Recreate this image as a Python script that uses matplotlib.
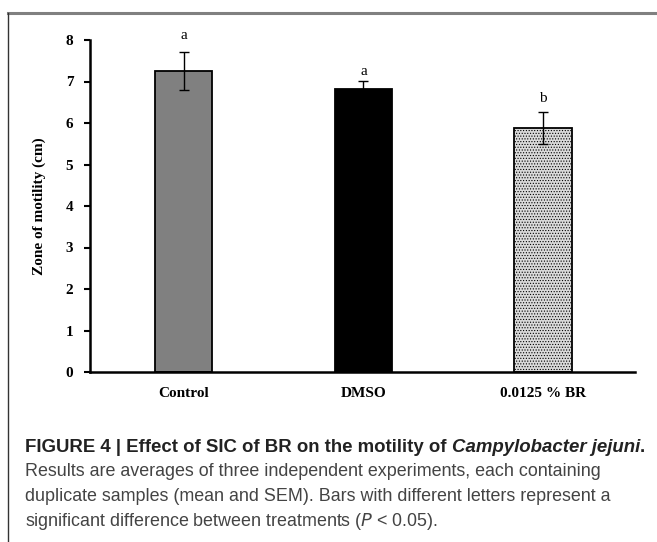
import matplotlib
matplotlib.use("Agg")
import matplotlib.pyplot as plt
from matplotlib.lines import Line2D
import numpy as np

categories = ["Control", "DMSO", "0.0125 % BR"]
means = [7.26, 6.81, 5.88]
sems = [0.46, 0.20, 0.39]
letters = ["a", "a", "b"]
y_ticks = [0, 1, 2, 3, 4, 5, 6, 7, 8]
y_label = "Zone of motility (cm)"

W, H = 657, 542
plt.rcParams["hatch.color"] = "#8a8a8a"
plt.rcParams["hatch.linewidth"] = 0.5
fig = plt.figure(figsize=(W / 100, H / 100), dpi=100)

ax = fig.add_axes([90 / W, 1 - 372 / H, (635 - 90) / W, (372 - 40) / H])
x = np.arange(len(categories))
faces = ["#808080", "#000000", "#dadada"]
bars = ax.bar(x, means, width=0.32, color=faces, edgecolor="black", linewidth=1.3, zorder=2)
bars[2].set_hatch("......")

ax.errorbar(x, means, yerr=sems, fmt="none", ecolor="black", elinewidth=1.0,
            capsize=3.5, capthick=1.0, zorder=3)

offsets_px = [10, 3, 7]
for xi, m, s, l, o in zip(x, means, sems, letters, offsets_px):
    ax.annotate(l, (xi, m + s), xytext=(0, o * 0.72), textcoords="offset points",
                ha="center", va="bottom", fontsize=11, family="Liberation Serif",
                annotation_clip=False)

ax.set_xlim(-0.52, 2.51)
ax.set_ylim(0, 8)
ax.set_yticks(y_ticks)
ax.set_yticklabels([str(t) for t in y_ticks], fontsize=11, fontweight="bold", family="Liberation Serif")
ax.set_xticks(x)
ax.set_xticklabels(categories, fontsize=11, fontweight="bold", family="Liberation Serif")
ax.tick_params(axis="x", length=0, pad=11)
ax.tick_params(axis="y", length=4, width=1.5, direction="out", pad=8)
ax.spines["top"].set_visible(False)
ax.spines["right"].set_visible(False)
ax.spines["left"].set_linewidth(1.8)
ax.spines["bottom"].set_linewidth(1.8)
ax.set_ylabel(y_label, fontsize=11, fontweight="bold", family="Liberation Serif", labelpad=14)

# frame lines
fig.add_artist(Line2D([8 / W, 1.0], [1 - 13 / H, 1 - 13 / H], color="#808080", linewidth=2.2))
fig.add_artist(Line2D([8 / W, 8 / W], [0, 1 - 13 / H], color="#333333", linewidth=1.0))

# caption
bsz = 13.4
rsz = 12.9
y1 = 1 - 447 / H
t1 = fig.text(25 / W, y1, "FIGURE 4 | Effect of SIC of BR on the motility of ", fontsize=bsz,
              fontweight="bold", family="Liberation Sans", va="center", color="#222222")
fig.canvas.draw()
bb = t1.get_window_extent()
t2 = fig.text(bb.x1 / W, y1, "Campylobacter jejuni", fontsize=bsz, fontweight="bold",
              style="italic", family="Liberation Sans", va="center", color="#222222")
fig.canvas.draw()
bb2 = t2.get_window_extent()
fig.text(bb2.x1 / W, y1, ".", fontsize=bsz, fontweight="bold",
         family="Liberation Sans", va="center", color="#222222")

cap_lines = [
    "Results are averages of three independent experiments, each containing",
    "duplicate samples (mean and SEM). Bars with different letters represent a",
]
for i, line in enumerate(cap_lines):
    fig.text(25 / W, 1 - (472 + 24.5 * i) / H, line, fontsize=rsz, family="Liberation Sans",
             va="center", color="#444444")
fig.text(25 / W, 1 - 521 / H, r"significant difference between treatments ($\it{P}$ < 0.05).",
         fontsize=rsz, family="Liberation Sans", va="center", color="#444444")

fig.savefig("out.png", dpi=100)
